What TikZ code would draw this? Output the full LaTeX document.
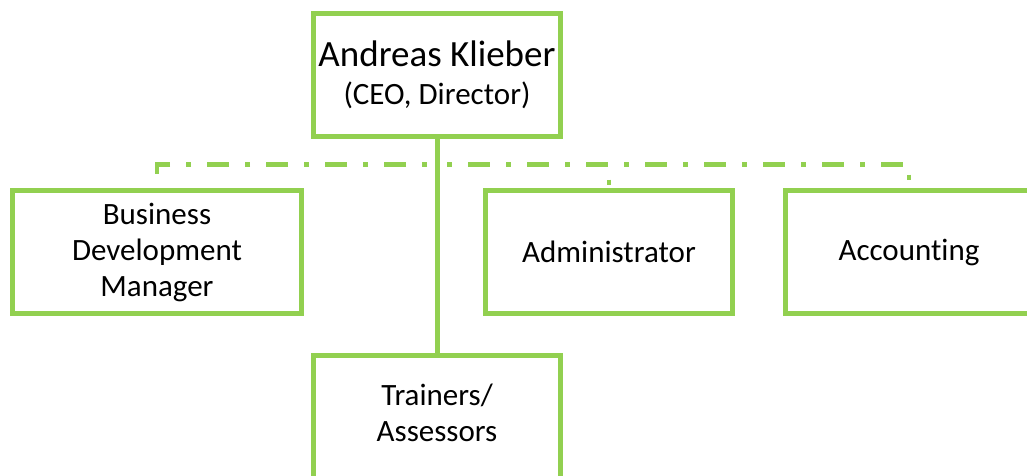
\documentclass[tikz,border=0pt]{standalone}
\usepackage{fontspec}
\setmainfont{Carlito}[Ligatures={NoCommon,NoRare},Contextuals={NoAlternate}]
\definecolor{lgreen}{HTML}{92D050}
\pgfdeclarelayer{background}
\pgfsetlayers{background,main}
\begin{document}
\begin{tikzpicture}[x=1pt,y=-1pt,
  box/.style={draw=lgreen, line width=5pt, fill=white, rectangle,
    minimum width=247pt, minimum height=123pt, inner sep=0pt, outer sep=0pt,
    align=center, font=\fontsize{31}{36}\selectfont},
  solidlink/.style={draw=lgreen, line width=5pt},
  dashlink/.style={draw=lgreen, line width=4.5pt,
    dash pattern=on 22pt off 16pt on 5pt off 16pt}]
\useasboundingbox (0,0) rectangle (1027,475);
\clip (0,0) rectangle (1027,475);
\node[box] (ceo) at (437,75) {{\fontsize{37}{40}\selectfont Andreas Klieber}\\[2pt](CEO, Director)};
\node[box, minimum width=289pt] (bdm) at (157,252) {Business\\Development\\Manager};
\node[box] (admin) at (609,252) {Administrator};
\node[box] (acct) at (909,252) {Account\kern0pt ing};
\node[box] (train) at (437,416.5) {Trainers/\\Assessors\\[-28pt]};
\begin{pgfonlayer}{background}
\draw[dashlink] (ceo.south) -- ++(0,28) -| (bdm.north);
\draw[dashlink] (ceo.south) -- ++(0,28) -| (admin.north);
\draw[dashlink] (ceo.south) -- ++(0,28) -| (acct.north);
\draw[solidlink] (ceo.south) -- (train.north);
\end{pgfonlayer}
\end{tikzpicture}
\end{document}
